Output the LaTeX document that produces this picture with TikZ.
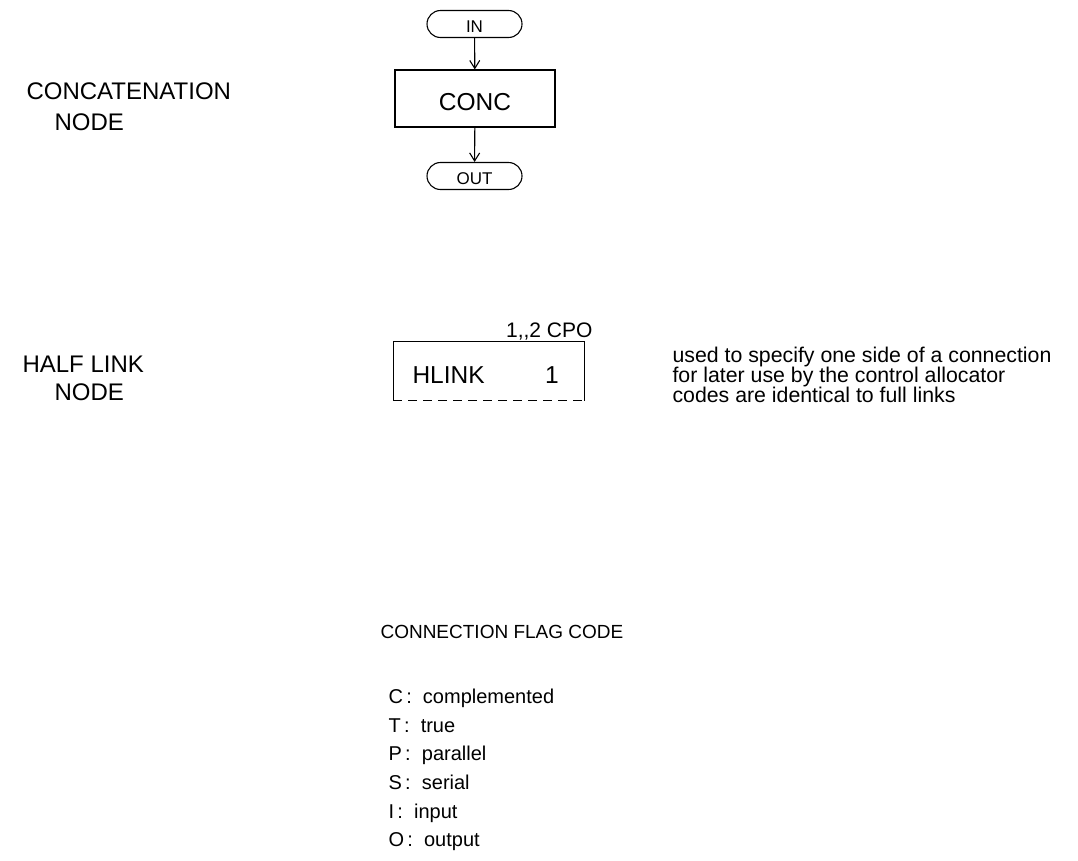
\documentclass[tikz,border=0pt]{standalone}
\usepackage{fontspec}
\setmainfont{Liberation Sans}
\usetikzlibrary{arrows.meta,shapes.misc}
\begin{document}
\begin{tikzpicture}[x=1pt,y=-1pt,
  line width=1.1pt,
  huge/.style={font=\fontsize{24.5}{28}\selectfont},
  big/.style={font=\fontsize{24}{28}\selectfont},
  cpofont/.style={font=\fontsize{21}{24}\selectfont},
  mid/.style={font=\fontsize{17}{20}\selectfont},
  small/.style={font=\fontsize{20}{20}\selectfont},
  descfont/.style={font=\fontsize{21.3}{20}\selectfont},
  term/.style={draw,rounded rectangle,minimum width=95pt,minimum height=27pt,inner sep=0pt,mid,text height=16pt,text depth=0pt},
  procbox/.style={draw,minimum width=160pt,minimum height=57pt,inner sep=0pt,huge,text height=24pt,text depth=0pt},
  arr/.style={-{Straight Barb[length=8pt,width=10pt]}},
  lbl/.style={big,anchor=base west,inner sep=0pt},
  item/.style={small,anchor=base west,inner sep=0pt}]
\useasboundingbox[fill=white] (0,0) rectangle (1078,860);
% concatenation node
\node[term] (in) at (474.5,24) {IN};
\node[procbox] (conc) at (475,98.5) {CONC};
\node[term] (out) at (474.5,176) {OUT};
\draw[arr] (in) -- (conc);
\draw[arr] (conc) -- (out);
\node[lbl] (l1a) at (26,99) {CONCATENATION};
\node[lbl] (l1b) at (54,130) {NODE};
% half link node
\node[lbl] (l2a) at (22,372) {HALF LINK};
\node[lbl] (l2b) at (54,400) {NODE};
\node[minimum width=190pt,minimum height=58pt,inner sep=0pt] (hl) at (489,371) {};
\draw (hl.south west) -- (hl.north west) -- (hl.north east) -- (hl.south east);
\draw[dash pattern=on 9pt off 6pt] (hl.south west) -- (hl.south east);
\node[huge,anchor=base west,inner sep=0pt] (hltxt) at (412,383) {HLINK};
\node[huge,anchor=base,inner sep=0pt] (hlnum) at (552,383) {1};
\node[cpofont,anchor=base east,inner sep=0pt] (cpo) at (593,337) {1{,}{,}2 CPO};
\node[descfont,anchor=base west,inner sep=0pt] (d1) at (672,362) {used to specify one side of a connection};
\node[descfont,anchor=base west,inner sep=0pt] (d2) at (672,382) {for later use by the control allocator};
\node[descfont,anchor=base west,inner sep=0pt] (d3) at (672,402) {codes are identical to full links};
% flag codes
\node[item,font=\fontsize{19}{20}\selectfont] (flag) at (380,638) {CONNECTION FLAG CODE};
\node[item] (c) at (388,703) {C\,:\ \ complemented};
\node[item] (t) at (388,732) {T\,:\ \ true};
\node[item] (p) at (388,760) {P\,:\ \ parallel};
\node[item] (s) at (388,789) {S\,:\ \ serial};
\node[item] (i) at (388,818) {I\,:\ \ input};
\node[item] (o) at (388,846) {O\,:\ \ output};
\end{tikzpicture}
\end{document}
